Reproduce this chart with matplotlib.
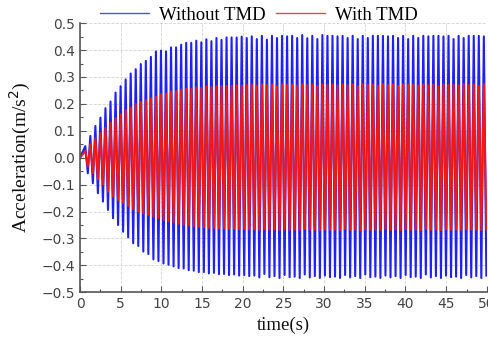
import numpy as np
import matplotlib
matplotlib.use("Agg")
import matplotlib.pyplot as plt
from matplotlib.ticker import MultipleLocator

OUTPUT_FIG = "out.png"

# oscillation timing (s): first crest and period
FIRST_PEAK = 0.65
PERIOD     = 0.62

# crest / trough acceleration of each cycle (m/s^2)
WITHOUT_PEAKS = [
    0.043, 0.081, 0.118, 0.149, 0.184, 0.209, 0.242, 0.266, 0.291, 0.313,
    0.329, 0.348, 0.360, 0.375, 0.395, 0.398, 0.395, 0.410, 0.410, 0.420,
    0.427, 0.427, 0.435, 0.429, 0.440, 0.433, 0.445, 0.438, 0.447, 0.447,
    0.447, 0.450, 0.445, 0.451, 0.441, 0.453, 0.439, 0.453, 0.445, 0.453,
    0.451, 0.453, 0.445, 0.456, 0.444, 0.453, 0.441, 0.456, 0.453, 0.453,
    0.451, 0.453, 0.445, 0.453, 0.441, 0.453, 0.445, 0.453, 0.453, 0.453,
    0.451, 0.453, 0.445, 0.453, 0.441, 0.453, 0.445, 0.453, 0.451, 0.453,
    0.453, 0.451, 0.453, 0.441, 0.453, 0.445, 0.453, 0.453, 0.453, 0.451,
]
WITHOUT_TROUGHS = [
    -0.058, -0.095, -0.132, -0.163, -0.194, -0.225, -0.250, -0.275, -0.296, -0.318,
    -0.328, -0.349, -0.358, -0.378, -0.384, -0.393, -0.398, -0.404, -0.410, -0.412,
    -0.418, -0.420, -0.425, -0.425, -0.430, -0.428, -0.433, -0.432, -0.436, -0.434,
    -0.438, -0.436, -0.440, -0.438, -0.445, -0.432, -0.444, -0.440, -0.447, -0.436,
    -0.444, -0.442, -0.447, -0.434, -0.445, -0.440, -0.447, -0.438, -0.444, -0.442,
    -0.447, -0.436, -0.445, -0.440, -0.447, -0.434, -0.444, -0.442, -0.447, -0.438,
    -0.445, -0.440, -0.447, -0.436, -0.444, -0.442, -0.447, -0.434, -0.445, -0.440,
    -0.447, -0.438, -0.444, -0.442, -0.447, -0.436, -0.445, -0.440, -0.447, -0.438,
]
WITH_PEAKS = [
    0.025, 0.050, 0.072, 0.091, 0.112, 0.130, 0.147, 0.161, 0.176, 0.186,
    0.199, 0.207, 0.214, 0.221, 0.226, 0.236, 0.239, 0.246, 0.248, 0.253,
    0.256, 0.256, 0.261, 0.259, 0.265, 0.263, 0.267, 0.267, 0.267, 0.267,
    0.270, 0.268, 0.270, 0.272, 0.268, 0.273, 0.270, 0.272, 0.266, 0.273,
    0.271, 0.272, 0.268, 0.273, 0.270, 0.272, 0.267, 0.273, 0.271, 0.272,
    0.268, 0.273, 0.270, 0.272, 0.266, 0.273, 0.271, 0.272, 0.268, 0.273,
    0.270, 0.272, 0.267, 0.273, 0.271, 0.272, 0.268, 0.273, 0.270, 0.272,
    0.266, 0.273, 0.271, 0.272, 0.268, 0.273, 0.270, 0.272, 0.267, 0.273,
]
WITH_TROUGHS = [
    -0.033, -0.058, -0.080, -0.100, -0.126, -0.145, -0.157, -0.169, -0.179, -0.192,
    -0.200, -0.207, -0.213, -0.219, -0.225, -0.231, -0.236, -0.241, -0.245, -0.249,
    -0.252, -0.254, -0.257, -0.258, -0.260, -0.261, -0.263, -0.263, -0.265, -0.264,
    -0.266, -0.265, -0.267, -0.266, -0.268, -0.265, -0.268, -0.267, -0.269, -0.266,
    -0.268, -0.267, -0.269, -0.265, -0.268, -0.267, -0.269, -0.266, -0.268, -0.267,
    -0.269, -0.265, -0.268, -0.267, -0.269, -0.266, -0.268, -0.267, -0.269, -0.265,
    -0.268, -0.267, -0.269, -0.266, -0.268, -0.267, -0.269, -0.265, -0.268, -0.267,
    -0.269, -0.266, -0.268, -0.267, -0.269, -0.265, -0.268, -0.267, -0.269, -0.266,
]

COLOR_WITHOUT = "#2020ff"
COLOR_WITH    = "#f01818"
COLOR_AXIS    = "#555555"
COLOR_TICK    = "#444444"
COLOR_GRID    = "#d5d5d5"
SERIF = ["Liberation Serif", "DejaVu Serif"]


def build_series(peaks, troughs):
    # interleave crests and troughs along the sampling grid, starting at rest
    n = len(peaks)
    t_peak = FIRST_PEAK + PERIOD * np.arange(n)
    t_trough = t_peak + PERIOD / 2
    t = np.empty(2 * n + 1)
    a = np.empty(2 * n + 1)
    t[0], a[0] = 0.0, 0.0
    t[1::2], a[1::2] = t_peak, peaks
    t[2::2], a[2::2] = t_trough, troughs
    return t, a


t_wo, a_wo = build_series(WITHOUT_PEAKS, WITHOUT_TROUGHS)
t_w,  a_w  = build_series(WITH_PEAKS, WITH_TROUGHS)

fig = plt.figure(figsize=(4.89, 3.41), dpi=100, facecolor="white")
ax = fig.add_axes([0.1636, 0.143, 0.832, 0.789])

ax.plot(t_wo, a_wo, color=COLOR_WITHOUT, lw=1.5, label="Without TMD")
ax.plot(t_w,  a_w,  color=COLOR_WITH,    lw=1.5, label="With TMD")

ax.set_xlim(0, 50)
ax.set_ylim(-0.5, 0.5)
ax.xaxis.set_major_locator(MultipleLocator(5))
ax.xaxis.set_minor_locator(MultipleLocator(2.5))
ax.yaxis.set_major_locator(MultipleLocator(0.1))
ax.yaxis.set_minor_locator(MultipleLocator(0.05))

ax.grid(True, which="major", color=COLOR_GRID, linestyle="--", linewidth=0.6)
ax.set_axisbelow(True)
for side in ["top", "right"]:
    ax.spines[side].set_visible(False)
for side in ["left", "bottom"]:
    ax.spines[side].set_color(COLOR_AXIS)
    ax.spines[side].set_linewidth(1.2)

ax.tick_params(which="both", direction="in", colors=COLOR_AXIS, labelcolor=COLOR_TICK,
               labelsize=10, width=0.8)
ax.tick_params(which="major", length=4)
ax.tick_params(which="minor", length=2.5)

ax.set_xlabel("time(s)", fontsize=13.5, family=SERIF, color="#111111", labelpad=4)
ax.set_ylabel("Acceleration(m/s$^2$)", fontsize=14, family=SERIF, color="#111111",
              labelpad=6)

leg = fig.legend(loc="center", bbox_to_anchor=(0.53, 0.956), ncol=2, frameon=False,
                 prop={"family": SERIF, "size": 13.5}, handlelength=2.6,
                 handletextpad=0.55, columnspacing=0.55)
for line in leg.get_lines():
    line.set_linewidth(1.0)
    line.set_alpha(0.8)

plt.savefig(OUTPUT_FIG, dpi=100, facecolor=fig.get_facecolor())
plt.close()
